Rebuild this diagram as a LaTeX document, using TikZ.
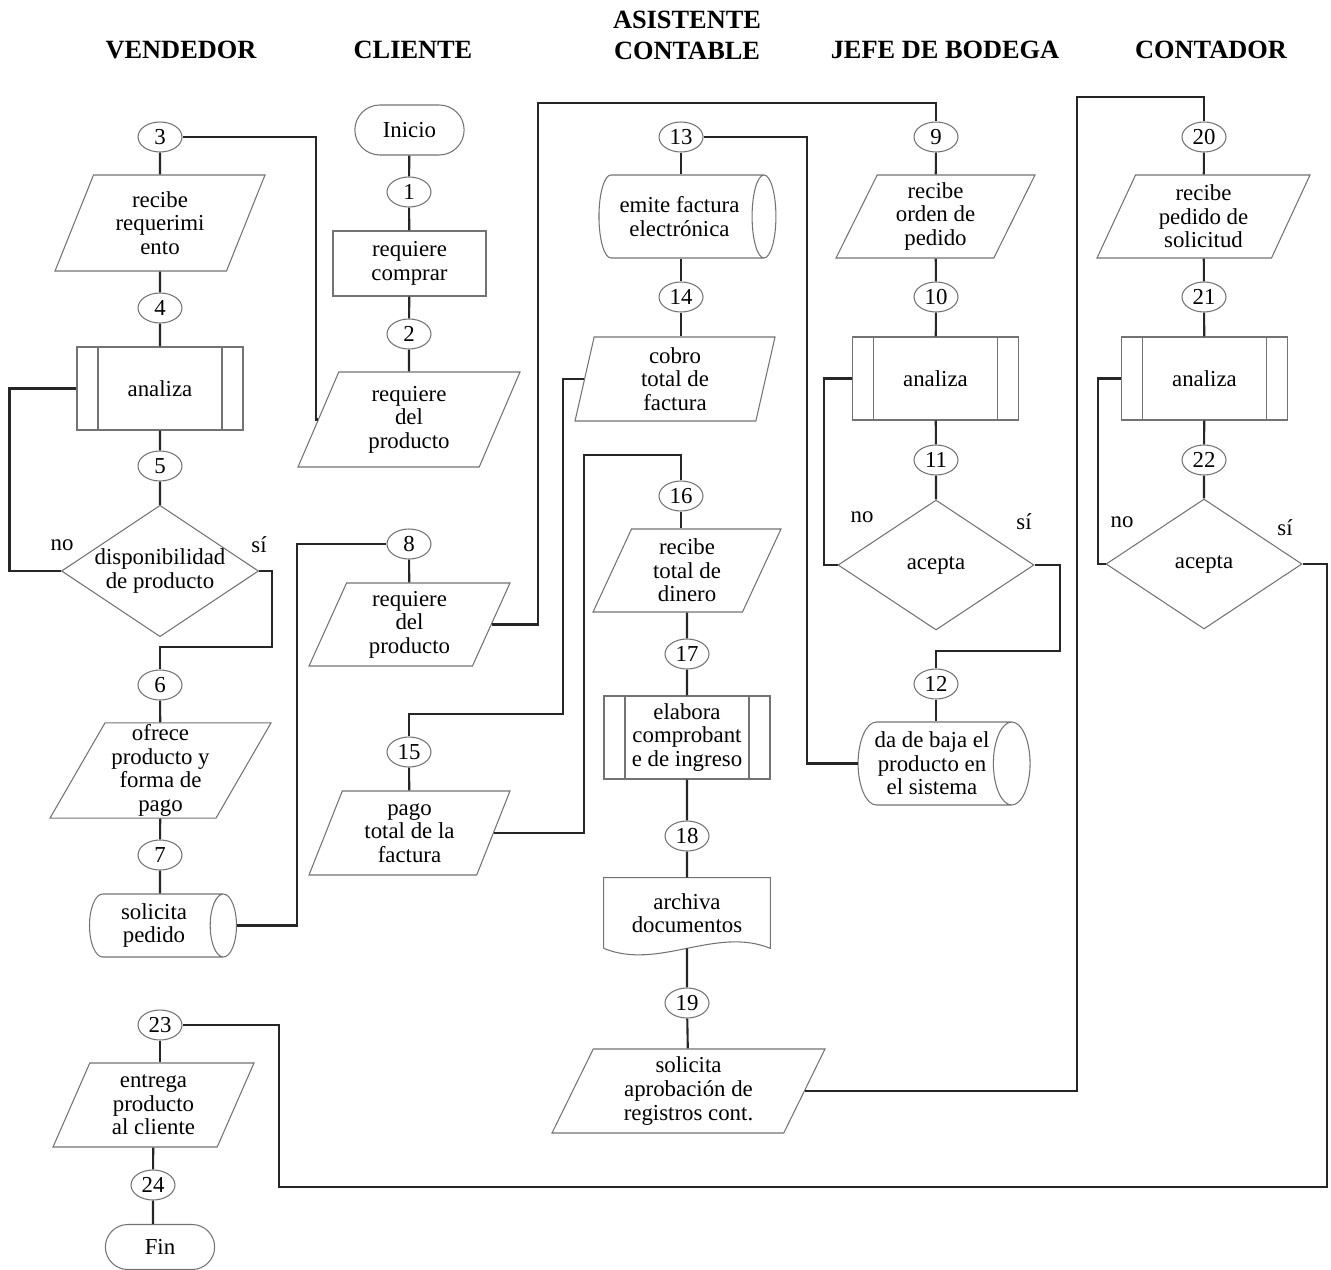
\documentclass[tikz,border=0pt]{standalone}
\usepackage{fontspec}
\setmainfont{Liberation Serif}
\usetikzlibrary{shapes.geometric,shapes.misc}

\begin{document}
\begin{tikzpicture}[x=0.02cm, y=-0.02cm,
  every node/.style={align=center, font=\fontsize{13}{13.4}\selectfont},
  shp/.style={draw=black!55, line width=0.6pt},
  conn/.style={draw=black!85, line width=1.2pt},
  lane/.style={font=\fontsize{15}{17.6}\selectfont\bfseries},
  num/.style={shp, ellipse, minimum width=0.88cm, minimum height=0.6cm, inner sep=0pt},
  term/.style={shp, rounded rectangle, minimum width=2.42cm, minimum height=1cm},
  proc/.style={shp, rectangle, minimum width=3.06cm, minimum height=1.3cm},
  subproc/.style={shp, rectangle, minimum width=3.32cm, minimum height=1.66cm,
    path picture={\draw[black!55, line width=0.6pt]
      ([xshift=0.42cm]path picture bounding box.north west) -- ([xshift=0.42cm]path picture bounding box.south west)
      ([xshift=-0.42cm]path picture bounding box.north east) -- ([xshift=-0.42cm]path picture bounding box.south east);}},
  datain/.style={shp, trapezium, trapezium left angle=60, trapezium right angle=120,
    trapezium stretches body, minimum height=1.66cm, inner sep=1pt},
  decision/.style={shp, diamond, aspect=1.5, minimum width=3.92cm, minimum height=2.6cm, inner sep=0pt},
  store/.style={shp, cylinder, aspect=0.55, minimum height=3.5cm, minimum width=1.66cm, inner sep=1pt}]
\useasboundingbox (0,0) rectangle (1331,1270);

% carriles
\node[lane] (tVen) at (181,50) {VENDEDOR};
\node[lane] (tCli) at (413,50) {CLIENTE};
\node[lane] (tAsi) at (687,35) {ASISTENTE\\CONTABLE};
\node[lane] (tJef) at (945,50) {JEFE DE BODEGA};
\node[lane] (tCon) at (1211,50) {CONTADOR};

% vendedor
\node[num] (c3) at (160,137) {3};
\node[datain, minimum width=4.2cm, minimum height=1.92cm] (p3) at (160,223) {recibe\\requerimi\\ento};
\node[num] (c4) at (160,308) {4};
\node[subproc] (a4) at (160,388.5) {analiza};
\node[num] (c5) at (160,466) {5};
\node[decision] (d5) at (160,571) {disponibilidad\\de producto};
\node (no5) at (62,545) {no};
\node (si5) at (259,545) {sí};
\node[num] (c6) at (160,685) {6};
\node[datain, minimum width=4.42cm, minimum height=1.9cm] (p6) at (160.5,770.5) {ofrece\\producto y\\forma de\\pago};
\node[num] (c7) at (160,855) {7};
\node[store, minimum height=2.94cm, minimum width=1.26cm] (s7) at (154,925.5) {solicita\\pedido};
\node[num] (c23) at (160,1025) {23};
\node[datain, minimum width=4.02cm, minimum height=1.68cm] (p23) at (153.5,1105) {entrega\\producto\\al cliente};
\node[num] (c24) at (153,1185) {24};
\node[term, minimum height=0.9cm] (fin) at (160,1247) {Fin};

% cliente
\node[term] (ini) at (409.5,130) {Inicio};
\node[num] (c1) at (409,192) {1};
\node[proc] (r1) at (409.5,263.5) {requiere\\comprar};
\node[num] (c2) at (409,334) {2};
\node[datain, minimum width=4.44cm, minimum height=1.9cm] (p2) at (409,419.5) {requiere\\del\\producto};
\node[num] (c8) at (409,544) {8};
\node[datain, trapezium left angle=62, trapezium right angle=118, minimum width=4.02cm] (p8) at (409.5,624.5) {requiere\\del\\producto};
\node[num] (c15) at (409,752) {15};
\node[datain, trapezium left angle=62, trapezium right angle=118, minimum width=4.02cm, minimum height=1.68cm] (p15) at (409.5,833) {pago\\total de la\\factura};

% asistente contable
\node[num] (c13) at (681,137) {13};
\node[store, minimum height=3.54cm] (s13) at (679.5,216.5) {emite factura\\electrónica};
\node[num] (c14) at (681,297) {14};
\node[datain, trapezium left angle=74, trapezium right angle=106, minimum width=4cm, minimum height=1.68cm] (p14) at (675,379) {cobro\\total de\\factura};
\node[num] (c16) at (681,496) {16};
\node[datain, minimum width=3.76cm] (p16) at (687,570.5) {recibe\\total de\\dinero};
\node[num] (c17) at (687,654) {17};
\node[subproc, inner sep=0pt] (a17) at (687,737.5) {elabora\\comprobant\\e de ingreso};
\node[num] (c18) at (687,836) {18};
\node[minimum width=3.32cm, minimum height=1.4cm] (d18) at (687,913) {archiva\\documentos};
\node[num] (c19) at (687,1003) {19};
\node[datain, minimum width=5.46cm, minimum height=1.68cm] (p19) at (688.5,1091) {solicita\\aprobación de\\registros cont.};

% jefe de bodega
\node[num] (c9) at (936,137) {9};
\node[datain, minimum width=3.98cm] (p9) at (935.5,216.5) {recibe\\orden de\\pedido};
\node[num] (c10) at (936,297) {10};
\node[subproc] (a10) at (935.5,378.5) {analiza};
\node[num] (c11) at (936,460) {11};
\node[decision] (d11) at (936,565) {acepta};
\node (no11) at (862,517) {no};
\node (si11) at (1024,522) {sí};
\node[num] (c12) at (936,684) {12};
\node[store, minimum height=3.44cm] (s12) at (932,763.5) {da de baja el\\producto en\\el sistema};

% contador
\node[num] (c20) at (1204,137) {20};
\node[datain, minimum width=4.26cm] (p20) at (1203.5,216.5) {recibe\\pedido de\\solicitud};
\node[num] (c21) at (1204,297) {21};
\node[subproc] (a21) at (1204.5,378.5) {analiza};
\node[num] (c22) at (1204,460) {22};
\node[decision] (d22) at (1204,564) {acepta};
\node (no22) at (1122,522) {no};
\node (si22) at (1285,528) {sí};

% documento (borde ondulado)
\draw[shp] (d18.south west) -- (d18.north west) -- (d18.north east) -- (d18.south east)
  .. controls +(-1.1cm,0.45cm) and +(1.1cm,-0.45cm) .. (d18.south west);

% flujo vertical
\draw[conn] (ini) -- (c1) -- (r1) -- (c2) -- (p2);
\draw[conn] (c3) -- (p3) -- (c4) -- (a4) -- (c5) -- (d5);
\draw[conn] (c6) -- (p6) -- (c7) -- (c7 |- s7.north);
\draw[conn] (c23) -- (c23 |- p23.north);
\draw[conn] (p23) -- (c24) -- (c24 |- fin.north);
\draw[conn] (c8) -- (p8);
\draw[conn] (c15) -- (p15);
\draw[conn] (c13) -- (c13 |- s13.north);
\draw[conn] (c14 |- s13.south) -- (c14) -- (c14 |- p14.north);
\draw[conn] (c16) -- (c16 |- p16.north);
\draw[conn] (p16) -- (c17) -- (a17) -- (c18) -- (d18);
\draw[conn] (d18) -- (c19) -- (p19);
\draw[conn] (c9) -- (p9) -- (c10) -- (a10) -- (c11) -- (d11);
\draw[conn] (c12) -- (c12 |- s12.north);
\draw[conn] (c20) -- (p20) -- (c21) -- (a21) -- (c22) -- (d22);

% enlaces entre carriles
\draw[conn] (c3) -- (316,137) |- (p2.west);
\draw[conn] (a4.west) -- ++(-67,0) |- (d5.west);
\draw[conn] (d5.east) -| (272,647) -| (c6);
\draw[conn] (s7.east) -| (297,544) -- (c8);
\draw[conn] (p8.east) -| (538,103) -| (c9);
\draw[conn] (c13) -- (807,137) |- (s12.west);
\draw[conn] (p14.west) -| (563,714) -| (c15);
\draw[conn] (p15.east) -| (584,455) -| (c16);
\draw[conn] (a10.west) -- ++(-28,0) |- (d11.west);
\draw[conn] (d11.east) -| (1060,651) -| (c12);
\draw[conn] (p19.east) -| (1077,97) -| (c20);
\draw[conn] (a21.west) -- ++(-23,0) |- (d22.west);
\draw[conn] (d22.east) -| (1327,1187) -| (279,1025) -- (c23);
\end{tikzpicture}
\end{document}
